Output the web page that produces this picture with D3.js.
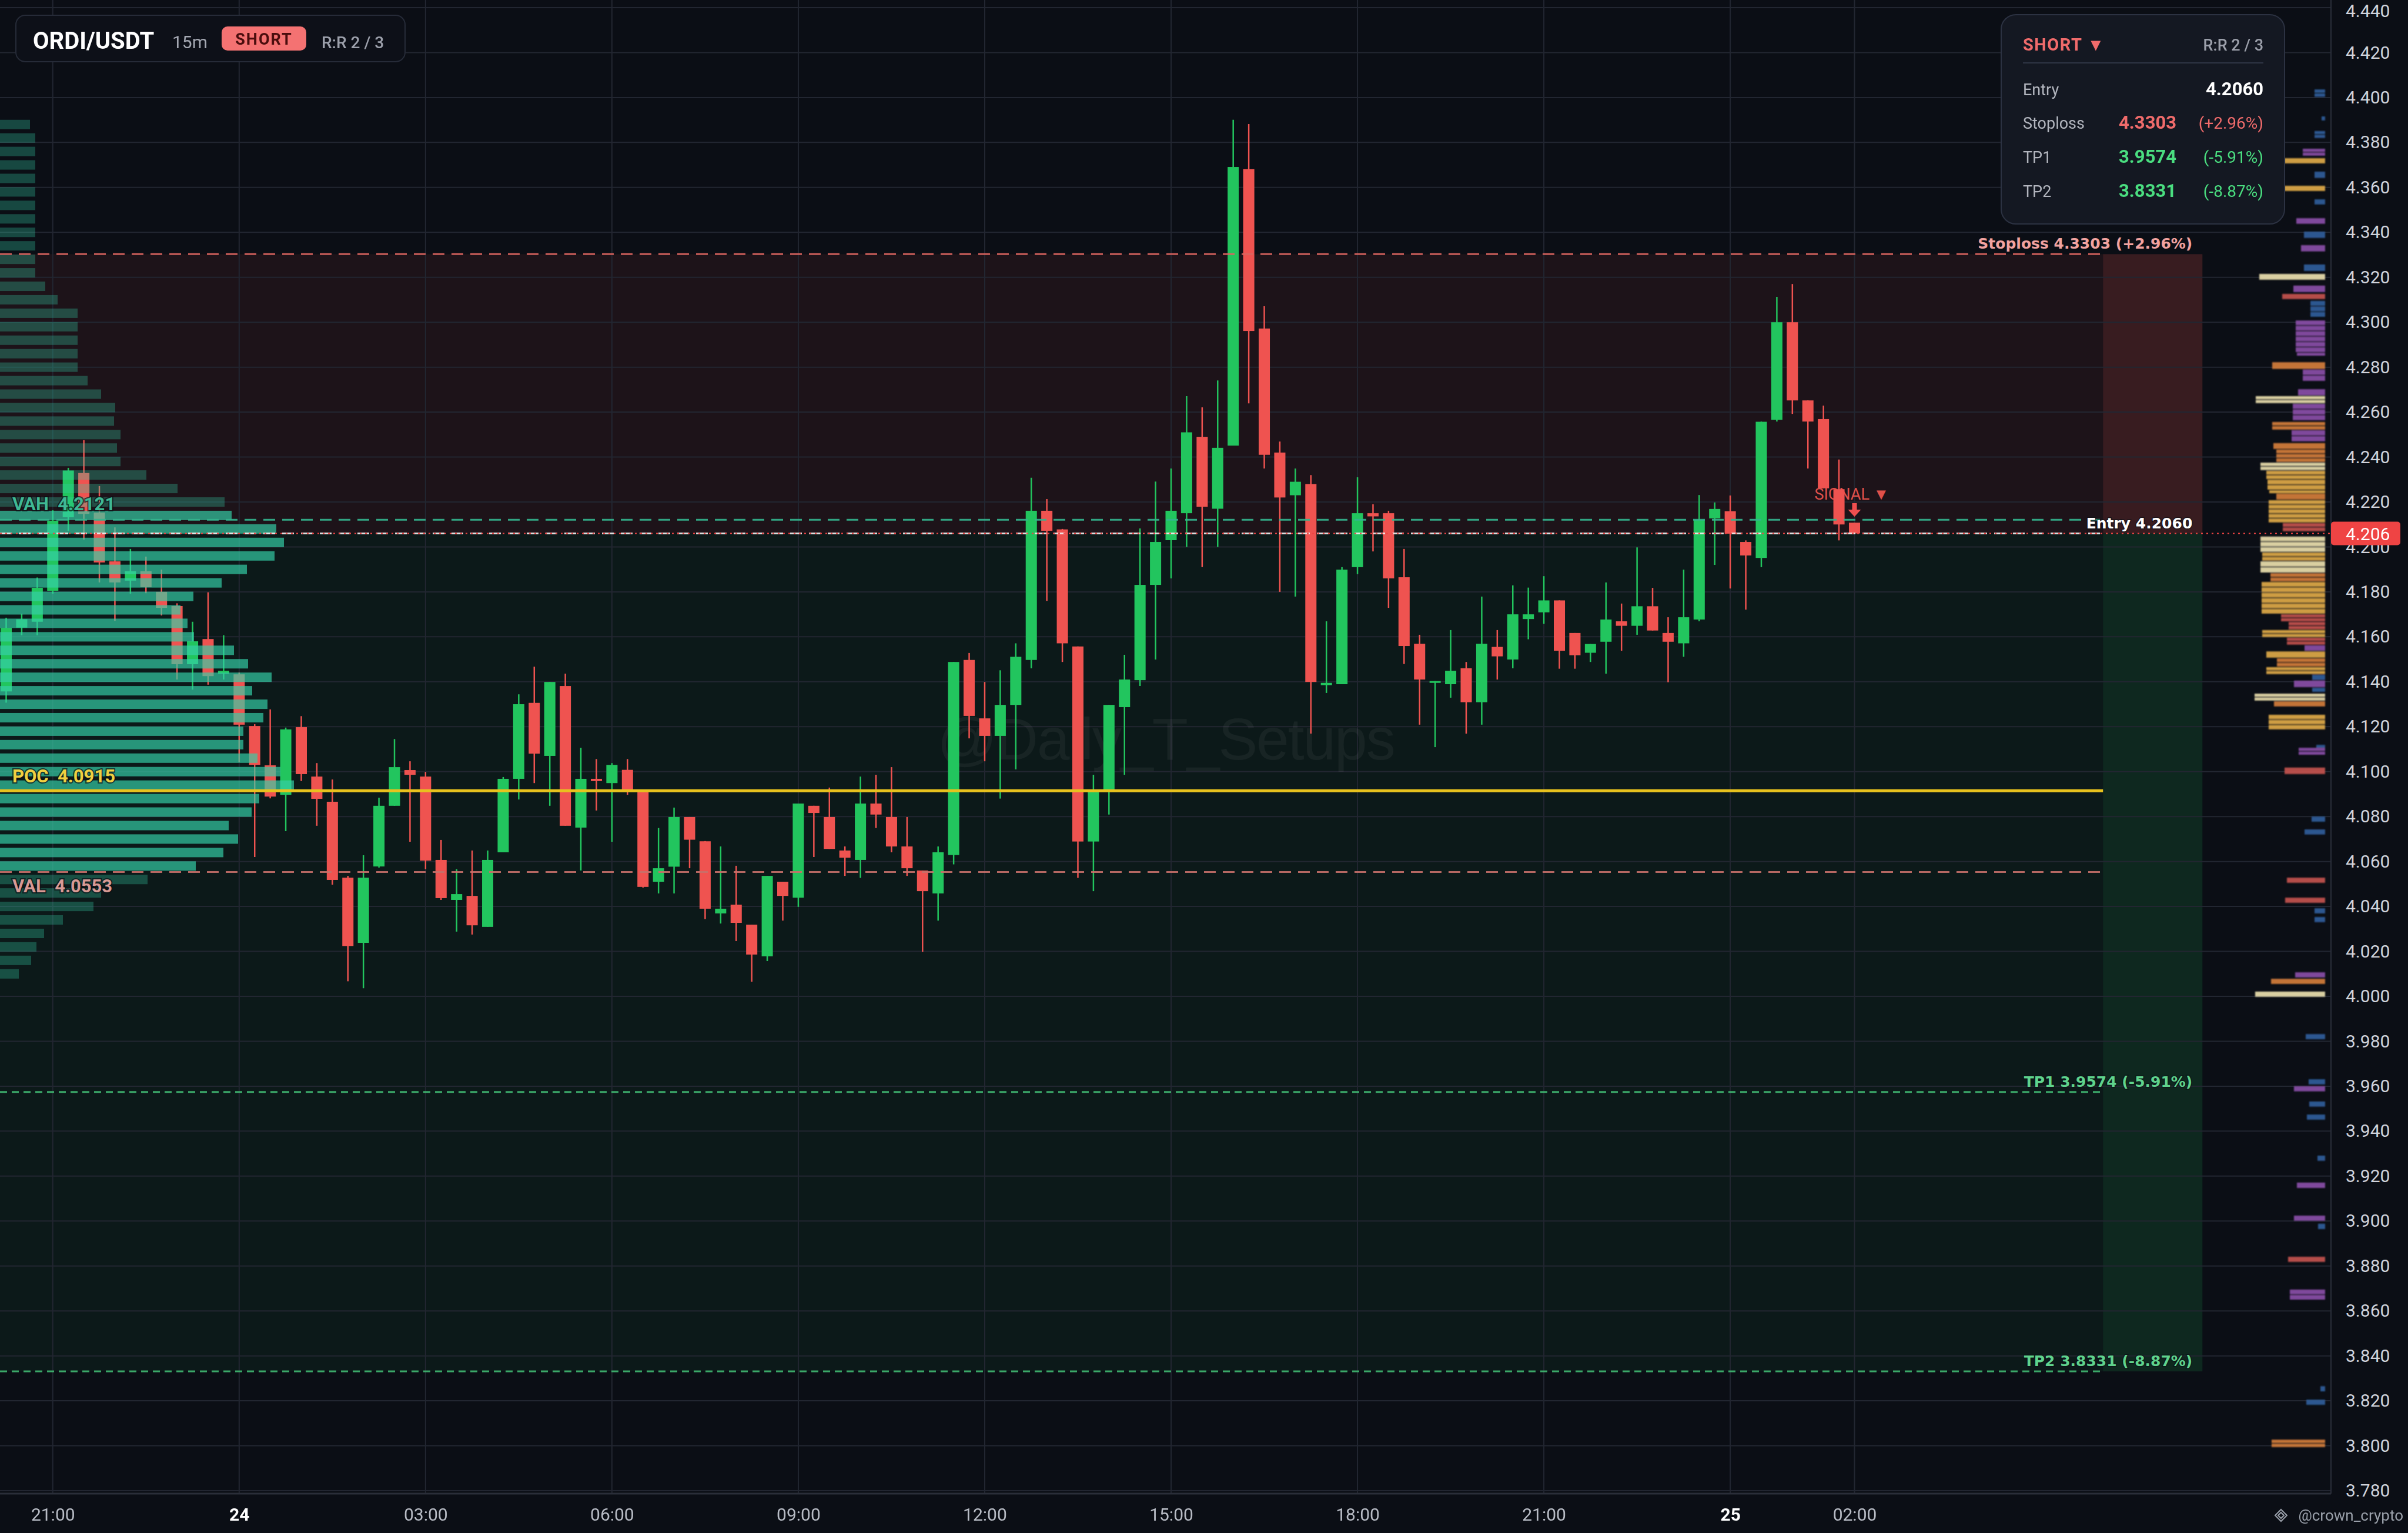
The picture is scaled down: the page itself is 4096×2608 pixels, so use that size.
<!DOCTYPE html>
<html>
<head>
<meta charset="utf-8">
<script src="https://cdn.jsdelivr.net/npm/d3@7"></script>
<style>
  html, body { margin: 0; padding: 0; background: #0b0e15; }
  svg { display: block; }
  text { font-family: Roboto, "Noto Sans", sans-serif; white-space: pre; }
</style>
</head>
<body>
<svg id="chart" width="4096" height="2608"></svg>
<script>
// ORDI/USDT 15m candles, first one at 23rd 20:15
const candleStart = '2024-12-23 20:15';

const opens = [4.1357,4.1641,4.1667,4.1805,4.2132,4.2329,4.2153,4.1936,4.1850,4.1892,
  4.1800,4.1737,4.1478,4.1590,4.1436,4.1433,4.1203,4.1028,4.0897,4.1198,
  4.0978,4.0866,4.0528,4.0238,4.0578,4.0848,4.1007,4.0978,4.0607,4.0429,
  4.0447,4.0309,4.0641,4.0968,4.1306,4.1070,4.1381,4.0751,4.0968,4.0949,
  4.1008,4.0910,4.0510,4.0577,4.0798,4.0690,4.0369,4.0408,4.0319,4.0178,
  4.0510,4.0439,4.0848,4.0798,4.0649,4.0607,4.0858,4.0798,4.0667,4.0560,
  4.0458,4.0629,4.1497,4.1237,4.1159,4.1297,4.1497,4.2161,4.2078,4.1557,
  4.0689,4.0910,4.1287,4.1407,4.1831,4.2030,4.2150,4.2490,4.2170,4.2451,
  4.3681,4.2972,4.2420,4.2230,4.2280,4.1385,4.1389,4.1910,4.2150,4.2150,
  4.1865,4.1569,4.1395,4.1389,4.1460,4.1309,4.1555,4.1499,4.1679,4.1709,
  4.1762,4.1617,4.1529,4.1578,4.1669,4.1649,4.1736,4.1617,4.1571,4.1677,
  4.2127,4.2159,4.2022,4.1951,4.2566,4.3000,4.2652,4.2569,4.2257,4.2108];

const highs = [4.1685,4.1703,4.1864,4.2163,4.2352,4.2475,4.2271,4.2087,4.1991,4.1957,
  4.1899,4.1749,4.1667,4.1798,4.1607,4.1441,4.1211,4.1277,4.1196,4.1247,
  4.1038,4.0965,4.0536,4.0628,4.0884,4.1145,4.1046,4.0999,4.0696,4.0566,
  4.0649,4.0649,4.0976,4.1344,4.1467,4.1399,4.1436,4.1106,4.1056,4.1038,
  4.1056,4.0915,4.0749,4.0840,4.0798,4.0691,4.0667,4.0581,4.0319,4.0536,
  4.0510,4.0858,4.0848,4.0929,4.0667,4.0978,4.0986,4.1020,4.0798,4.0560,
  4.0667,4.1488,4.1528,4.1399,4.1451,4.1571,4.2308,4.2213,4.2080,4.1557,
  4.0986,4.1297,4.1520,4.2082,4.2291,4.2349,4.2671,4.2621,4.2741,4.3901,
  4.3882,4.3071,4.2469,4.2349,4.2320,4.1669,4.1910,4.2310,4.2190,4.2161,
  4.1991,4.1609,4.1403,4.1630,4.1488,4.1779,4.1630,4.1829,4.1819,4.1870,
  4.1762,4.1617,4.1568,4.1842,4.1748,4.1998,4.1818,4.1687,4.1899,4.2231,
  4.2198,4.2229,4.2029,4.2558,4.3113,4.3170,4.2652,4.2629,4.2389,4.2108];

const lows = [4.1307,4.1607,4.1607,4.1792,4.2072,4.2033,4.1842,4.1671,4.1792,4.1794,
  4.1695,4.1410,4.1365,4.1387,4.1410,4.1042,4.0620,4.0881,4.0735,4.0958,
  4.0759,4.0497,4.0067,4.0036,4.0573,4.0848,4.0688,4.0566,4.0429,4.0288,
  4.0275,4.0309,4.0641,4.0876,4.0949,4.0848,4.0759,4.0560,4.0827,4.0688,
  4.0897,4.0484,4.0458,4.0458,4.0570,4.0344,4.0324,4.0246,4.0065,4.0157,
  4.0337,4.0398,4.0620,4.0656,4.0536,4.0527,4.0749,4.0641,4.0536,4.0198,
  4.0337,4.0587,4.1148,4.1046,4.0880,4.1010,4.1460,4.1760,4.1488,4.0527,
  4.0468,4.0809,4.0986,4.1381,4.1499,4.1860,4.2000,4.1910,4.2000,4.2451,
  4.2639,4.2349,4.1800,4.1779,4.1169,4.1350,4.1389,4.1879,4.1980,4.1729,
  4.1479,4.1209,4.1109,4.1329,4.1169,4.1209,4.1410,4.1460,4.1589,4.1658,
  4.1458,4.1458,4.1488,4.1436,4.1538,4.1609,4.1628,4.1398,4.1511,4.1669,
  4.1920,4.1815,4.1721,4.1910,4.2558,4.2592,4.2349,4.2261,4.2029,4.2060];

const closes = [4.1640,4.1678,4.1818,4.2117,4.2340,4.2147,4.1931,4.1842,4.1892,4.1821,
  4.1729,4.1478,4.1580,4.1425,4.1449,4.1209,4.1030,4.0889,4.1188,4.0989,
  4.0879,4.0518,4.0224,4.0528,4.0848,4.1020,4.0986,4.0604,4.0437,4.0455,
  4.0316,4.0607,4.0968,4.1300,4.1080,4.1399,4.0759,4.0968,4.0958,4.1030,
  4.0912,4.0487,4.0570,4.0798,4.0697,4.0390,4.0390,4.0327,4.0186,4.0536,
  4.0447,4.0858,4.0816,4.0656,4.0617,4.0858,4.0809,4.0667,4.0570,4.0468,
  4.0641,4.1488,4.1248,4.1159,4.1297,4.1511,4.2161,4.2072,4.1571,4.0689,
  4.0910,4.1297,4.1410,4.1831,4.2022,4.2161,4.2510,4.2179,4.2441,4.3691,
  4.2961,4.2410,4.2220,4.2290,4.1399,4.1395,4.1899,4.2150,4.2136,4.1860,
  4.1559,4.1410,4.1403,4.1449,4.1309,4.1569,4.1513,4.1700,4.1700,4.1762,
  4.1538,4.1518,4.1568,4.1677,4.1649,4.1736,4.1628,4.1578,4.1687,4.2119,
  4.2169,4.2059,4.1962,4.2557,4.3000,4.2652,4.2558,4.2261,4.2100,4.2060];

// trade setup
const entry = 4.2060;
const stoploss = 4.3303;
const tp1 = 3.9574;
const tp2 = 3.8331;
const boxStart = '2024-12-25 06:00';
const boxEnd = '2024-12-25 07:36';

// session volume profile (rows from the top bin down)
const vah = 4.2121, poc = 4.0915, val = 4.0553;
const profileTop = 4.388, profileStep = 0.006;
const profileVolumes = [51,60,60,60,60,60,60,60,60,60,60,60,77,98,132,132,132,132,132,149,
  172,196,194,205,199,205,249,302,382,394,470,483,467,420,377,329,307,319,330,398,
  422,462,429,455,448,414,414,438,477,500,441,428,389,405,380,333,251,172,159,107,
  75,62,53,32];

// liquidity heat bars beside the price scale: price band, size, tone
const heatHigh = [4.4036,4.3916,4.3851,4.3772,4.3730,4.3670,4.3607,4.3547,4.3463,4.3403,
  4.3343,4.3257,4.3215,4.3163,4.3126,4.3095,4.3008,4.2864,4.2822,4.2789,
  4.2702,4.2671,4.2637,4.2556,4.2519,4.2462,4.2433,4.2375,4.2339,4.2299,
  4.2252,4.2237,4.2208,4.2106,4.2046,4.1975,4.1936,4.1883,4.1844,4.1700,
  4.1666,4.1630,4.1596,4.1562,4.1535,4.1504,4.1465,4.1431,4.1405,4.1373,
  4.1347,4.1313,4.1253,4.1119,4.1106,4.1018,4.0800,4.0743,4.0528,4.0439,
  4.0392,4.0353,4.0107,4.0078,4.0021,3.9832,3.9631,3.9600,3.9532,3.9474,
  3.9291,3.9171,3.9024,3.8988,3.8841,3.8695,3.8265,3.8205,3.8027];
const heatLow = [4.4000,4.3895,4.3817,4.3738,4.3704,4.3639,4.3581,4.3521,4.3435,4.3372,
  4.3312,4.3225,4.3186,4.3131,4.3100,4.3021,4.2864,4.2851,4.2789,4.2736,
  4.2671,4.2637,4.2561,4.2519,4.2467,4.2433,4.2375,4.2339,4.2299,4.2252,
  4.2237,4.2208,4.2106,4.2067,4.1975,4.1936,4.1883,4.1844,4.1700,4.1666,
  4.1630,4.1596,4.1562,4.1535,4.1504,4.1465,4.1431,4.1405,4.1373,4.1352,
  4.1313,4.1287,4.1185,4.1106,4.1072,4.0986,4.0774,4.0717,4.0502,4.0413,
  4.0366,4.0327,4.0081,4.0052,3.9995,3.9806,3.9605,3.9574,3.9506,3.9448,
  3.9265,3.9144,3.8998,3.8961,3.8815,3.8647,3.8239,3.8179,3.7991];
const heatSizes = [18,6,18,38,69,18,69,18,49,36,
  41,36,112,54,73,25,50,48,90,38,
  46,118,55,90,57,88,83,110,100,98,
  95,83,96,72,110,107,110,93,108,75,
  62,107,65,35,100,82,100,22,53,22,
  120,87,96,15,45,69,23,35,65,68,
  18,18,51,92,119,33,28,53,27,31,
  13,48,53,12,63,60,8,32,91];
const heatTones = ['b','b','b','u','g','b','g','b','u','b',
  'u','b','p','u','s','b','u','u','o','u',
  'u','p','u','o','u','o','o','p','g','g',
  'g','o','g','s','p','g','p','o','g','s',
  's','g','s','u','g','o','g','b','u','b',
  'p','o','g','b','u','s','b','b','s','s',
  'b','b','u','o','p','b','b','u','b','b',
  'b','u','u','b','s','u','b','b','o'];

// axes
const priceTicks = [3.78,3.80,3.82,3.84,3.86,3.88,3.90,3.92,3.94,3.96,3.98,4.00,4.02,4.04,4.06,4.08,4.10,
  4.12,4.14,4.16,4.18,4.20,4.22,4.24,4.26,4.28,4.30,4.32,4.34,4.36,4.38,4.40,4.42,4.44];
const timeTicks = ['2024-12-23 21:00','2024-12-24 00:00','2024-12-24 03:00','2024-12-24 06:00',
  '2024-12-24 09:00','2024-12-24 12:00','2024-12-24 15:00','2024-12-24 18:00',
  '2024-12-24 21:00','2024-12-25 00:00','2024-12-25 02:00'];

const plotRight = 3965, plotBottom = 2541;
const bg = '#0b0e15';
const up = '#22c55e', down = '#ef5350';
const toneColor = { p: '#ecdfae', g: '#e0a947', o: '#d47d3a', s: '#c4524f', u: '#8a4ea8', b: '#2f5d9b' };

const parseTime = d3.timeParse('%Y-%m-%d %H:%M');
const t0 = parseTime(candleStart);
const candleTimes = opens.map((d, i) => d3.timeMinute.offset(t0, i * 15));
const candles = candleTimes.map((t, i) => ({ t, o: opens[i], h: highs[i], l: lows[i], c: closes[i] }));

const x = d3.scaleTime()
  .domain([candleTimes[0], candleTimes[candleTimes.length - 1]])
  .range([10.5, 3154.5]);
const y = d3.scaleLinear().domain([3.78, 4.44]).range([2536, 13]);
const barStep = x(candleTimes[1]) - x(candleTimes[0]);
const bodyW = barStep * 0.72;

const svg = d3.select('#chart');
const defs = svg.append('defs');
defs.append('filter').attr('id', 'soft')
  .append('feGaussianBlur').attr('stdDeviation', 1.2);

svg.append('rect').attr('width', 4096).attr('height', 2608).attr('fill', bg);

// risk / reward zones
const bx0 = x(parseTime(boxStart)), bx1 = x(parseTime(boxEnd));
const zones = svg.append('g').attr('class', 'zones');
zones.append('rect').attr('x', 0).attr('y', y(stoploss))
  .attr('width', bx0).attr('height', y(entry) - y(stoploss))
  .attr('fill', 'rgba(239,83,80,0.08)');
zones.append('rect').attr('x', bx0).attr('y', y(stoploss))
  .attr('width', bx1 - bx0).attr('height', y(entry) - y(stoploss))
  .attr('fill', 'rgba(239,83,80,0.2)');
zones.append('rect').attr('x', 0).attr('y', y(entry))
  .attr('width', bx0).attr('height', y(tp2) - y(entry))
  .attr('fill', 'rgba(34,197,94,0.06)');
zones.append('rect').attr('x', bx0).attr('y', y(entry))
  .attr('width', bx1 - bx0).attr('height', y(tp2) - y(entry))
  .attr('fill', 'rgba(34,197,94,0.15)');

// grid
const tickDates = timeTicks.map(parseTime);
const grid = svg.append('g').attr('class', 'grid').attr('stroke', '#222631').attr('stroke-width', 2);
grid.selectAll('line.h').data(priceTicks).enter().append('line')
  .attr('x1', 0).attr('x2', plotRight)
  .attr('y1', d => y(d)).attr('y2', d => y(d));
grid.selectAll('line.v').data(tickDates).enter().append('line')
  .attr('x1', d => x(d)).attr('x2', d => x(d))
  .attr('y1', 0).attr('y2', plotBottom);

// watermark
svg.append('text')
  .attr('x', 1983).attr('y', 1292)
  .attr('text-anchor', 'middle')
  .style('font-family', '"Liberation Sans", Arial, sans-serif')
  .style('font-size', '100px')
  .style('letter-spacing', '-2px')
  .attr('fill', 'rgba(255,255,255,0.05)')
  .text('@Daily_T_Setups');

// signal tag (sits behind the candles)
const lastT = candleTimes[candleTimes.length - 1];
svg.append('text')
  .attr('x', x(lastT) - 68).attr('y', 850)
  .style('font-size', '27px')
  .attr('fill', '#e0504a')
  .text('SIGNAL ▼');

// candles
const candleG = svg.append('g').attr('class', 'candles');
const cg = candleG.selectAll('g').data(candles).enter().append('g')
  .attr('transform', d => `translate(${x(d.t)},0)`);
cg.append('line')
  .attr('y1', d => y(d.h)).attr('y2', d => y(d.l))
  .attr('stroke', d => d.c >= d.o ? up : down)
  .attr('stroke-width', 2.5);
cg.append('rect')
  .attr('x', -bodyW / 2).attr('width', bodyW)
  .attr('y', d => y(Math.max(d.o, d.c)))
  .attr('height', d => Math.max(3, Math.abs(y(d.o) - y(d.c))))
  .attr('fill', d => d.c >= d.o ? up : down);

// signal arrow on the last bar
const ax = x(lastT);
svg.append('path')
  .attr('d', `M${ax - 4},856 h8 v11 h7 l-11,12 l-11,-12 h7 z`)
  .attr('fill', '#ef4f4f');

// volume profile, drawn over the candles
const profX = d3.scaleLinear().domain([0, d3.max(profileVolumes)]).range([0, 500]);
const rowH = (y(0) - y(profileStep)) * 0.7;
const rows = profileVolumes.map((v, k) => ({ p: profileTop - k * profileStep, v }));
svg.append('g').attr('class', 'profile')
  .selectAll('rect').data(rows).enter().append('rect')
  .attr('x', 0)
  .attr('y', d => y(d.p) - rowH / 2)
  .attr('height', rowH)
  .attr('width', d => profX(d.v))
  .attr('fill', '#35d0a8')
  .attr('opacity', d => (d.p <= vah + profileStep / 2 && d.p >= val - profileStep / 2) ? 0.68 : 0.3);

// level lines
const levelLines = [
  { p: stoploss, color: '#dc6560', dash: '20,12', w: 3, op: 0.9 },
  { p: vah, color: '#34b58f', dash: '20,12', w: 3, op: 0.9 },
  { p: entry, color: '#f2f2f2', dash: '20,12', w: 3, op: 0.9 },
  { p: val, color: '#c8706a', dash: '20,12', w: 3, op: 0.9 },
  { p: tp1, color: '#41b872', dash: '12,8', w: 3, op: 0.9 },
  { p: tp2, color: '#41b872', dash: '12,8', w: 3, op: 0.9 }
];
svg.append('g').attr('class', 'levels')
  .selectAll('line').data(levelLines).enter().append('line')
  .attr('x1', 0).attr('x2', bx0)
  .attr('y1', d => y(d.p)).attr('y2', d => y(d.p))
  .attr('stroke', d => d.color).attr('stroke-width', d => d.w)
  .attr('stroke-dasharray', d => d.dash).attr('opacity', d => d.op);

svg.append('line')
  .attr('x1', 0).attr('x2', bx0)
  .attr('y1', y(poc)).attr('y2', y(poc))
  .attr('stroke', '#e8c21e').attr('stroke-width', 5);

// current price line
svg.append('line')
  .attr('x1', 0).attr('x2', plotRight)
  .attr('y1', y(closes[closes.length - 1])).attr('y2', y(closes[closes.length - 1]))
  .attr('stroke', '#ef4444').attr('stroke-width', 2).attr('stroke-dasharray', '3,6');

// left profile labels
const leftLabels = [
  { text: 'VAH  ' + vah.toFixed(4), p: vah, dy: -16, color: '#3fb894' },
  { text: 'POC  ' + poc.toFixed(4), p: poc, dy: -14, color: '#f0d040' },
  { text: 'VAL  ' + val.toFixed(4), p: val, dy: 34, color: '#d89a94' }
];
svg.append('g').selectAll('text').data(leftLabels).enter().append('text')
  .attr('x', 21).attr('y', d => y(d.p) + d.dy)
  .style('font-size', '31px').style('font-weight', 700)
  .attr('fill', d => d.color)
  .attr('stroke', 'rgba(10,14,20,0.7)').attr('stroke-width', 4).attr('paint-order', 'stroke')
  .text(d => d.text);

// right level labels
const pct = p => ((p - entry) / entry * 100);
const fmtPct = p => (pct(p) > 0 ? '+' : '') + pct(p).toFixed(2) + '%';
const rightLabels = [
  { text: `Stoploss ${stoploss.toFixed(4)} (${fmtPct(stoploss)})`, p: stoploss, color: '#f2a3a0' },
  { text: `Entry ${entry.toFixed(4)}`, p: entry, color: '#ffffff' },
  { text: `TP1 ${tp1.toFixed(4)} (${fmtPct(tp1)})`, p: tp1, color: '#5fd38d' },
  { text: `TP2 ${tp2.toFixed(4)} (${fmtPct(tp2)})`, p: tp2, color: '#5fd38d' }
];
svg.append('g').selectAll('text').data(rightLabels).enter().append('text')
  .attr('x', bx1 - 17).attr('y', d => y(d.p) - 9)
  .attr('text-anchor', 'end')
  .style('font-family', '"DejaVu Sans", sans-serif')
  .style('font-size', '25px').style('font-weight', 700)
  .attr('fill', d => d.color)
  .attr('stroke', 'rgba(10,14,20,0.6)').attr('stroke-width', 3).attr('paint-order', 'stroke')
  .text(d => d.text);

// heat bars next to the price scale, each band split into thin rows
const heatX = d3.scaleLinear().domain([0, d3.max(heatSizes)]).range([0, d3.max(heatSizes)]);
const heatRowPx = 8.6;
const heatRows = [];
heatHigh.forEach((p, i) => {
  const top = y(p), bot = y(heatLow[i]);
  const n = Math.max(1, Math.round((bot - top) / heatRowPx));
  const h = (bot - top) / n;
  for (let k = 0; k < n; k++) {
    heatRows.push({ y0: top + k * h, h: Math.max(5, h - 1.2), s: heatSizes[i], tone: heatTones[i] });
  }
});
svg.append('g').attr('class', 'heat').attr('filter', 'url(#soft)')
  .selectAll('rect').data(heatRows).enter().append('rect')
  .attr('x', d => 3955 - heatX(d.s))
  .attr('width', d => heatX(d.s))
  .attr('y', d => d.y0)
  .attr('height', d => d.h)
  .attr('fill', d => toneColor[d.tone])
  .attr('opacity', 0.92);

// price axis
svg.append('line')
  .attr('x1', plotRight).attr('x2', plotRight).attr('y1', 0).attr('y2', plotBottom)
  .attr('stroke', '#2a2e39').attr('stroke-width', 2);
const yAxis = svg.append('g')
  .attr('transform', `translate(${plotRight},0)`)
  .call(d3.axisRight(y).tickValues(priceTicks).tickFormat(d3.format('.3f')).tickSize(0).tickPadding(25))
  .call(g => g.select('.domain').remove());
yAxis.selectAll('text')
  .style('font-family', 'Roboto, sans-serif').style('font-size', '30px')
  .attr('fill', '#d1d4dc')
  .attr('dy', d => d === 4.44 ? '0.5em' : '0.32em');

// current price tag
const lastY = y(closes[closes.length - 1]);
svg.append('rect')
  .attr('x', plotRight).attr('y', lastY - 20).attr('width', 118).attr('height', 40)
  .attr('rx', 5).attr('fill', '#ef4444');
svg.append('text')
  .attr('x', plotRight + 25).attr('y', lastY + 11)
  .style('font-size', '30px').attr('fill', '#ffffff')
  .text(closes[closes.length - 1].toFixed(3));

// time axis
svg.append('line')
  .attr('x1', 0).attr('x2', plotRight).attr('y1', plotBottom).attr('y2', plotBottom)
  .attr('stroke', '#2a2e39').attr('stroke-width', 3);
const fmtHM = d3.timeFormat('%H:%M');
const xAxis = svg.append('g')
  .attr('transform', `translate(0,${plotBottom})`)
  .call(d3.axisBottom(x).tickValues(tickDates)
    .tickFormat(d => d.getHours() === 0 ? String(d.getDate()) : fmtHM(d))
    .tickSize(0))
  .call(g => g.select('.domain').remove());
xAxis.selectAll('text')
  .attr('y', 46).attr('dy', 0)
  .style('font-family', 'Roboto, sans-serif').style('font-size', '30px')
  .style('font-weight', d => d.getHours() === 0 ? 700 : 400)
  .attr('fill', d => d.getHours() === 0 ? '#ffffff' : '#b8bcc5');

// header chip
const head = svg.append('g');
head.append('rect').attr('x', 27).attr('y', 26).attr('width', 662).attr('height', 79).attr('rx', 16)
  .attr('fill', '#0d1018').attr('stroke', '#262b38').attr('stroke-width', 2);
head.append('text').attr('x', 56).attr('y', 83)
  .style('font-size', '40px').style('font-weight', 700).attr('fill', '#ffffff').text('ORDI/USDT');
head.append('text').attr('x', 293).attr('y', 82)
  .style('font-size', '30px').attr('fill', '#a4a8b2').text('15m');
head.append('rect').attr('x', 377).attr('y', 45).attr('width', 144).attr('height', 41).attr('rx', 10)
  .attr('fill', '#f47272');
head.append('text').attr('x', 449).attr('y', 76).attr('text-anchor', 'middle')
  .style('font-size', '27px').style('font-weight', 700).style('letter-spacing', '2px')
  .attr('fill', '#4a0d0d').text('SHORT');
head.append('text').attr('x', 547).attr('y', 82)
  .style('font-size', '28px').style('font-weight', 500).attr('fill', '#9ca0ab').text('R:R 2 / 3');

// trade panel
const panel = svg.append('g');
panel.append('rect').attr('x', 3404).attr('y', 25).attr('width', 482).attr('height', 356).attr('rx', 25)
  .attr('fill', '#141822').attr('stroke', '#2c3242').attr('stroke-width', 2);
panel.append('text').attr('x', 3441).attr('y', 86)
  .style('font-size', '29px').style('font-weight', 700).style('letter-spacing', '1.5px')
  .attr('fill', '#f06b6b').text('SHORT ▼');
panel.append('text').attr('x', 3850).attr('y', 86).attr('text-anchor', 'end')
  .style('font-size', '27px').style('font-weight', 500).attr('fill', '#9ca0ab').text('R:R 2 / 3');
panel.append('line').attr('x1', 3441).attr('x2', 3850).attr('y1', 107).attr('y2', 107)
  .attr('stroke', '#2f3545').attr('stroke-width', 2);

const panelRows = [
  { name: 'Entry', value: entry.toFixed(4), pctText: '', color: '#ffffff', yy: 162 },
  { name: 'Stoploss', value: stoploss.toFixed(4), pctText: `(${fmtPct(stoploss)})`, color: '#f06b6b', yy: 219 },
  { name: 'TP1', value: tp1.toFixed(4), pctText: `(${fmtPct(tp1)})`, color: '#4ade80', yy: 277 },
  { name: 'TP2', value: tp2.toFixed(4), pctText: `(${fmtPct(tp2)})`, color: '#4ade80', yy: 335 }
];
const pr = panel.selectAll('g.row').data(panelRows).enter().append('g');
pr.append('text').attr('x', 3441).attr('y', d => d.yy)
  .style('font-size', '27px').attr('fill', '#b2b5be').text(d => d.name);
pr.append('text').attr('x', d => d.pctText ? 3702 : 3850).attr('y', d => d.yy)
  .attr('text-anchor', 'end')
  .style('font-size', '31px').style('font-weight', 700)
  .attr('fill', d => d.color).text(d => d.value);
pr.append('text').attr('x', 3850).attr('y', d => d.yy).attr('text-anchor', 'end')
  .style('font-size', '28px').attr('fill', d => d.color).text(d => d.pctText);

// credit
svg.append('path')
  .attr('d', 'M3880,2568 l10,10 l-10,10 l-10,-10 z M3880,2573 l5,5 l-5,5 l-5,-5 z')
  .attr('fill', 'none').attr('stroke', '#9aa0aa').attr('stroke-width', 2);
svg.append('text').attr('x', 4088).attr('y', 2587).attr('text-anchor', 'end')
  .style('font-size', '26px').attr('fill', '#9aa0aa').text('@crown_crypto');
</script>
</body>
</html>
